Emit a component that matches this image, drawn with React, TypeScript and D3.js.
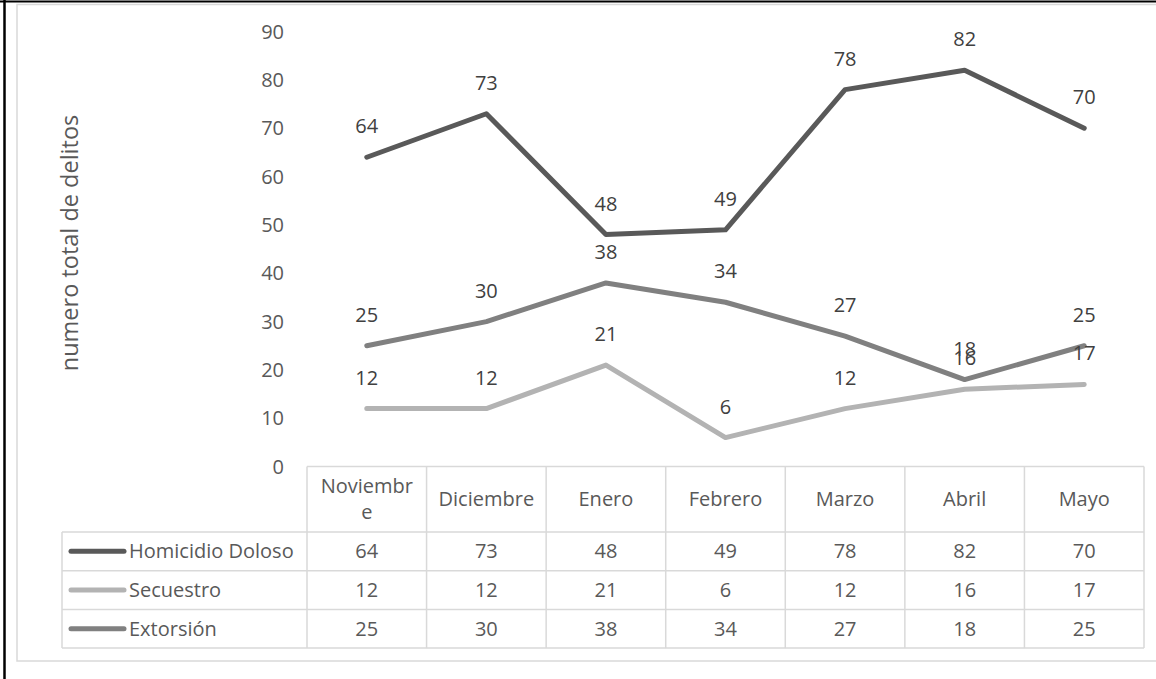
import React from "react";
import * as d3 from "d3";

const months = ["Noviembre", "Diciembre", "Enero", "Febrero", "Marzo", "Abril", "Mayo"];
const headerLines = [["Noviembr", "e"], ["Diciembre"], ["Enero"], ["Febrero"], ["Marzo"], ["Abril"], ["Mayo"]];
const seriesNames = ["Homicidio Doloso", "Secuestro", "Extorsión"];
const homicidio = [64, 73, 48, 49, 78, 82, 70];
const secuestro = [12, 12, 21, 6, 12, 16, 17];
const extorsion = [25, 30, 38, 34, 27, 18, 25];
const seriesColors = ["#595959", "#b3b3b3", "#808080"];
const yTicks = [0, 10, 20, 30, 40, 50, 60, 70, 80, 90];

const W = 1156;
const H = 679;
const FONT = "'Open Sans', sans-serif";
const FS = 20;

const App: React.FC = () => {
  const seriesValues = [homicidio, secuestro, extorsion];

  // columnas de la tabla = eje x
  const x = d3.scaleBand<string>().domain(months).range([307, 1144]);
  const y = d3.scaleLinear().domain([0, 90]).range([466.6, 31.6]);
  const cx = (i: number) => (x(months[i]) ?? 0) + x.bandwidth() / 2;

  const line = d3
    .line<number>()
    .x((_, i) => cx(i))
    .y(d => y(d));

  const headerTop = y(0);
  const headerBottom = 532;
  const rowH = 38.7;
  const rowTop = (i: number) => headerBottom + i * rowH;
  const tableLeft = 62;
  const tableRight = x.range()[1];

  const grid = "#d9d9d9";

  return (
    <div style={{ position: "fixed", left: 0, top: 0 }}>
      <svg width={W} height={H} style={{ display: "block", background: "#fff" }}>
        {/* marcos */}
        <rect x={17} y={4.5} width={1160} height={656.5} fill="none" stroke="#d9d9d9" strokeWidth={1.5} />
        <line x1={4.5} y1={0} x2={4.5} y2={H} stroke="#000" strokeWidth={2.5} />
        <line x1={0} y1={1.5} x2={W} y2={1.5} stroke="#000" strokeWidth={2} />

        {/* eje y */}
        {yTicks.map(t => (
          <text
            key={t}
            x={284}
            y={y(t)}
            dy="0.35em"
            textAnchor="end"
            fontFamily={FONT}
            fontSize={FS}
            fill="#595959"
          >
            {t}
          </text>
        ))}
        <text
          transform={`translate(78,243) rotate(-90)`}
          textAnchor="middle"
          fontFamily={FONT}
          fontSize={23.5}
          fill="#595959"
        >
          numero total de delitos
        </text>

        {/* lineas */}
        {seriesValues.map((vals, s) => (
          <path
            key={seriesNames[s]}
            d={line(vals) ?? ""}
            fill="none"
            stroke={seriesColors[s]}
            strokeWidth={5}
            strokeLinecap="round"
            strokeLinejoin="round"
          />
        ))}

        {/* etiquetas de datos */}
        {seriesValues.map((vals, s) =>
          vals.map((v, i) => (
            <text
              key={`${s}-${i}`}
              x={cx(i)}
              y={y(v) - 24}
              textAnchor="middle"
              fontFamily={FONT}
              fontSize={FS}
              fill="#404040"
            >
              {v}
            </text>
          ))
        )}

        {/* tabla de datos */}
        <g stroke={grid} strokeWidth={1.5} fill="none">
          <line x1={x.range()[0]} y1={headerTop} x2={tableRight} y2={headerTop} />
          {[0, 1, 2, 3].map(i => (
            <line key={i} x1={tableLeft} y1={rowTop(i)} x2={tableRight} y2={rowTop(i)} />
          ))}
          <line x1={tableLeft} y1={rowTop(0)} x2={tableLeft} y2={rowTop(3)} />
          {months.map(m => (
            <line key={m} x1={x(m) ?? 0} y1={headerTop} x2={x(m) ?? 0} y2={rowTop(3)} />
          ))}
          <line x1={tableRight} y1={headerTop} x2={tableRight} y2={rowTop(3)} />
        </g>

        {headerLines.map((lines, i) => {
          const cy = (headerTop + headerBottom) / 2;
          const lh = 26;
          return (
            <text key={months[i]} textAnchor="middle" fontFamily={FONT} fontSize={FS} fill="#595959">
              {lines.map((l, k) => (
                <tspan key={k} x={cx(i)} y={cy + (k - (lines.length - 1) / 2) * lh} dy="0.35em">
                  {l}
                </tspan>
              ))}
            </text>
          );
        })}

        {seriesValues.map((vals, s) => {
          const cy = rowTop(s) + rowH / 2;
          return (
            <g key={seriesNames[s]}>
              <line
                x1={71}
                y1={cy}
                x2={124}
                y2={cy}
                stroke={seriesColors[s]}
                strokeWidth={5}
                strokeLinecap="round"
              />
              <text x={129} y={cy} dy="0.35em" fontFamily={FONT} fontSize={FS} fill="#595959">
                {seriesNames[s]}
              </text>
              {vals.map((v, i) => (
                <text
                  key={i}
                  x={cx(i)}
                  y={cy}
                  dy="0.35em"
                  textAnchor="middle"
                  fontFamily={FONT}
                  fontSize={FS}
                  fill="#595959"
                >
                  {v}
                </text>
              ))}
            </g>
          );
        })}
      </svg>
    </div>
  );
};

export default App;
